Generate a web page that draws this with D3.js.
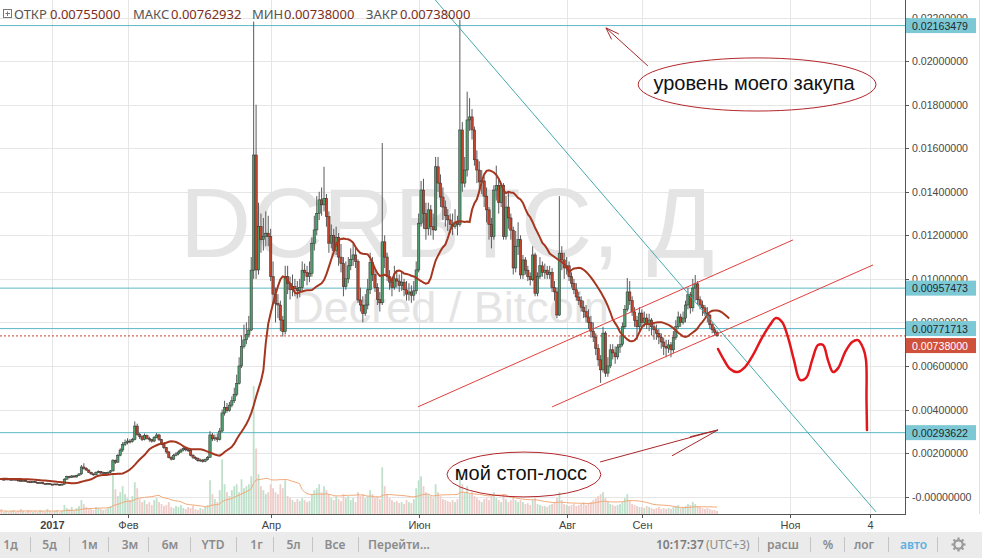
<!DOCTYPE html>
<html><head><meta charset="utf-8">
<script src="https://cdn.jsdelivr.net/npm/d3@7"></script>
<style>
html,body{margin:0;padding:0;background:#fff;overflow:hidden}
svg{display:block}
</style></head><body>
<svg id="c" width="982" height="558"></svg>
<script>
// ---------- DATA (prices in units of 1e-5 BTC, daily candles from 2016-12-05) ----------
const PRICE_UNIT = 1e-5;
const firstDate = "2016-12-05";
const firstOpen = 80;
const closes = [
82,80,84,81,79,83,80,78,81,79, 77,80,76,74,72,75,70,68,66,69, 65,62,64,60,58,61,57,55,58,56,
54,57,80,92,88,95,90,97,104,136, 130,122,112,104,100,112,115,108,110,106, 112,118,165,158,190,214,240,248,255,252,
262,324,285,275,262,280,268,262,255,272, 283,262,240,225,205,180,172,190,196,205, 214,220,215,212,190,180,175,165,168,162,
170,180,283,265,270,262,301,384,410,395, 420,440,470,520,600,690,720,745,765,1040, 1569,1041,1240,1180,1195,1210,1194,1010,930,888,
880,811,758,1010,980,950,965,955,945,960, 1040,1030,1010,1025,1164,1225,1300,1363,1340,1370, 1286,1164,1200,1130,1190,1100,1070,964,1000,1060,
1090,1110,1080,903,880,842,880,950,1075,1020, 960,905,890,1170,1100,1010,985,960,1000,990, 970,985,950,930,940,925,945,1041,1256,1408,
1300,1230,1317,1240,1225,1515,1440,1376,1330,1290, 1271,1250,1240,1260,1250,1684,1440,1500,1730,1744, 1684,1547,1500,1445,1450,1380,1317,1250,1194,1408,
1430,1350,1430,1194,1330,1280,1224,1050,1150,1180, 1018,1087,1040,1010,996,1110,934,1010,1060,1030, 1040,1020,1030,960,940,834,1118,1087,1050,1060,
1010,980,950,917,900,870,850,825,800,760, 733,680,628,582,751,567,600,674,660,642, 687,700,780,860,940,900,848,810,780,843,
800,820,790,811,780,766,750,733,710,690, 682,697,674,730,780,825,800,820,880,927, 867,958,977,904,880,867,843,834,790,766,
755,738];
const highs = [
85,84,86,85,82,85,84,81,83,82, 80,82,81,77,75,77,76,71,69,71, 70,67,66,65,61,63,62,58,60,60,
58,60,84,96,95,98,97,100,108,145, 153,135,125,114,106,115,120,117,114,112, 115,122,172,170,195,222,250,262,268,264,
270,345,335,292,282,290,285,275,265,278, 292,288,265,245,228,210,185,196,205,212, 220,228,225,220,215,195,185,180,174,172,
175,186,300,292,285,290,315,400,440,430, 435,460,500,560,640,740,790,800,830,1100, 2182,1800,1350,1300,1280,1310,1290,1230,1080,960,
930,900,830,1060,1060,1010,1020,1000,990,1000, 1080,1070,1060,1080,1190,1290,1380,1400,1420,1515, 1390,1310,1250,1230,1240,1210,1160,1100,1080,1100,
1140,1160,1150,1090,960,920,930,1000,1120,1100, 1040,980,940,1624,1200,1120,1040,1010,1060,1040, 1020,1030,1000,990,980,970,990,1080,1300,1450,
1460,1350,1350,1340,1300,1560,1560,1480,1420,1360, 1320,1300,1300,1320,1290,2190,1720,1560,1860,1830, 1780,1700,1590,1540,1500,1470,1420,1330,1280,1430,
1520,1460,1440,1440,1380,1400,1300,1240,1220,1260, 1200,1110,1100,1060,1030,1150,1120,1030,1100,1080, 1070,1060,1060,1050,990,960,1380,1150,1120,1100,
1080,1030,1000,980,940,920,900,880,860,830, 800,750,700,650,780,760,640,700,700,690, 700,740,800,880,1004,990,920,870,830,870,
860,850,840,840,820,800,790,770,750,730, 720,720,710,760,810,850,840,850,900,960, 940,1000,1018,990,920,900,880,870,840,800,
780,763];
const lows = [
78,77,79,78,76,78,77,75,77,76, 74,76,73,71,69,70,67,65,63,64, 62,59,60,57,55,56,54,52,53,53,
51,52,55,78,84,86,87,88,95,100, 124,118,108,100,96,98,108,104,104,102, 103,108,115,150,155,185,205,232,240,244,
248,258,280,265,255,258,262,252,248,250, 268,255,236,218,196,176,166,168,185,190, 200,208,208,205,185,172,168,160,160,156,
158,165,178,255,256,250,258,295,372,385, 390,410,430,460,515,590,680,700,730,760, 1000,1000,1020,1120,1130,1150,1150,990,880,800,
820,760,735,745,930,905,920,920,910,915, 945,990,970,985,1010,1130,1200,1270,1290,1310, 1240,1120,1140,1110,1110,1060,1030,920,950,980,
1040,1060,1050,890,850,800,830,860,930,990, 940,880,850,880,1050,990,950,920,950,960, 940,945,920,900,900,890,900,930,1030,1240,
1230,1180,1200,1200,1180,1220,1400,1330,1270,1240, 1220,1210,1200,1230,1200,1240,1400,1420,1470,1680, 1640,1520,1440,1400,1390,1330,1260,1180,1140,1180,
1360,1300,1330,1180,1180,1230,1180,1020,1030,1110, 1000,1000,1020,990,970,990,920,920,1000,1010, 1000,1000,1000,940,900,820,830,1040,1000,1020,
990,960,930,900,880,850,820,800,770,730, 710,650,600,522,570,550,550,590,630,610, 630,660,690,770,850,880,830,780,720,760,
780,780,770,760,740,720,720,700,680,650, 640,660,640,660,720,770,780,790,800,860, 840,850,900,880,860,830,830,800,770,750,
740,738];
const volumes = [
3,2,4,3,2,3,5,2,3,2, 3,4,2,3,5,3,2,4,3,2, 3,2,4,3,2,5,3,2,3,4,
2,3,9,6,5,7,4,6,8,14, 10,7,6,5,4,7,6,5,4,5, 6,8,41,25,18,22,28,20,16,14,
18,32,26,15,12,14,10,12,9,14, 16,12,10,8,9,12,7,6,8,7, 9,6,5,7,6,8,5,4,6,5,
7,9,34,20,15,12,24,55,30,22, 18,24,28,30,22,35,26,28,30,38, 129,66,40,28,24,20,22,30,26,22,
20,30,26,34,18,16,14,12,15,13, 16,14,12,13,20,24,26,30,22,28, 24,20,16,14,18,15,13,20,16,18,
14,16,12,22,18,20,16,18,24,20, 16,18,15,47,28,20,16,14,12,13, 11,12,10,14,12,11,15,26,34,38,
28,22,20,18,16,30,22,18,15,14, 13,12,14,12,15,44,30,22,28,20, 22,18,16,14,12,15,16,14,18,22,
16,14,12,20,15,12,14,18,14,12, 14,12,10,11,9,14,16,10,9,8, 8,7,9,10,12,16,22,14,10,9,
8,9,10,8,9,10,12,9,11,12, 14,16,18,20,22,16,12,10,9,8, 9,10,12,16,20,14,10,9,8,7,
7,6,8,7,6,5,6,7,5,6, 5,6,5,7,8,9,6,7,8,10, 9,12,10,8,7,6,5,6,5,4,
4,3];

const priceTicks = [0.022,0.020,0.018,0.016,0.014,0.012,0.010,0.008,0.006,0.004,0.002,0];
const priceTickLabels = ["0.02200000","0.02000000","0.01800000","0.01600000","0.01400000","0.01200000","0.01000000","0.00800000","0.00600000","0.00400000","0.00200000","-0.00000000"];
const levelPrices = [0.02163479, 0.00957473, 0.00771713, 0.00293622];
const lastPrice = 0.00738;
const timeTickDates = ["2017-01-01","2017-02-01","2017-04-01","2017-06-01","2017-08-01","2017-09-01","2017-11-01","2017-12-04"];
const timeTickLabels = ["2017","Фев","Апр","Июн","Авг","Сен","Ноя","4"];

// drawings (day offset from 2017-01-01, price)
const tealTrend = [[155.7,0.02309],[339.5,-0.0007]];
const channelUpper = [[150.7,0.00412],[305.3,0.01179]];
const channelLower = [[206.0,0.00412],[338.3,0.01064]];
const scribbleDays = [274.4,276.9,279.4,282.3,285.5,288.8,292.5,295.8,298.3,300.8,303.3,305.7,308.2,310.7,313.2,315.6,317.7,319.7,321.8,323.9,326.8,329.7,332.1,334.2,335.4,335.6,335.8];
const scribblePrices = [0.00678,0.00627,0.00586,0.00572,0.00595,0.0065,0.00729,0.00788,0.0082,0.00802,0.00729,0.00627,0.00536,0.00545,0.00627,0.00696,0.00696,0.00627,0.00572,0.0059,0.00664,0.0071,0.00719,0.00682,0.00627,0.00444,0.00306];
const notes = [
  {text:"уровень моего закупа", day:290.5, price:0.01893, rxDays:49, ryPrice:0.00122},
  {text:"мой стоп-лосс", day:194.4, price:0.001015, rxDays:31.7, ryPrice:0.00103}
];
const arrows = [
  {from:[245.5,0.01978], to:[228.2,0.02153], barbs:[[230.5,0.02100],[233.5,0.02125]]},
  {from:[225.8,0.00159], to:[274.4,0.00306], barbs:[[262.9,0.00275],[255.4,0.00187]]}
];
const header = [["ОТКР","0.00755000"],["МАКС","0.00762932"],["МИН","0.00738000"],["ЗАКР","0.00738000"]];
const leftButtons = ["1д","5д","1м","3м","6м","YTD","1г","5л","Все","Перейти..."];
const rightButtons = ["расш","%","лог","авто"];

// ---------- CHART ----------
const W = 905, H = 514, DAY = 86400000;
const parse = d3.utcParse("%Y-%m-%d");
const t0 = parse("2017-01-01");
const dayDate = d => new Date(t0.getTime() + d*DAY);
const x = d3.scaleUtc().domain([t0, parse("2017-12-04")]).range([52.3, 869.9]);
const y = d3.scaleLinear().domain([-0.0008, 0.02281]).range([H, 0]);
const yv = d3.scaleLinear().domain([0, 130]).range([H, 385]);

const svg = d3.select("#c");
svg.append("rect").attr("width",982).attr("height",558).attr("fill","#fff");
svg.append("defs").append("clipPath").attr("id","clip").append("rect").attr("width",W).attr("height",H);

const start = parse(firstDate);
const candles = closes.map((c,i)=>{
  const o = i ? closes[i-1] : firstOpen;
  return {date:new Date(start.getTime()+i*DAY), o:o*PRICE_UNIT, c:c*PRICE_UNIT,
          h:Math.max(highs[i],o,c)*PRICE_UNIT, l:Math.min(lows[i],o,c)*PRICE_UNIT, v:volumes[i]};
});

const plot = svg.append("g").attr("clip-path","url(#clip)");
// grid
plot.append("g").selectAll("line").data(priceTicks).join("line")
  .attr("x1",0).attr("x2",W).attr("y1",d=>Math.round(y(d))+0.5).attr("y2",d=>Math.round(y(d))+0.5)
  .attr("stroke","#e6e6e6");
plot.append("g").selectAll("line").data(timeTickDates).join("line")
  .attr("x1",d=>Math.round(x(parse(d)))+0.5).attr("x2",d=>Math.round(x(parse(d)))+0.5).attr("y1",0).attr("y2",H)
  .attr("stroke","#e6e6e6");

// watermark
plot.append("text").attr("x",447).attr("y",257).attr("text-anchor","middle")
  .attr("font-family","Liberation Sans, Arial, sans-serif").attr("font-size",99).attr("fill","#e4e4e4")
  .text("DCRBTC, Д");
plot.append("text").attr("x",450).attr("y",323).attr("text-anchor","middle")
  .attr("font-family","Liberation Sans, Arial, sans-serif").attr("font-size",45).attr("fill","#e4e4e4")
  .text("Decred / Bitcoin");

// volume
plot.append("g").selectAll("rect").data(candles).join("rect")
  .attr("x",d=>x(d.date)-0.9).attr("width",1.8)
  .attr("y",d=>yv(d.v)).attr("height",d=>H-yv(d.v))
  .attr("fill",d=>d.c>=d.o?"#bfe0cb":"#efcdca");
const volMA = candles.map((d,i)=>{const s=candles.slice(Math.max(0,i-19),i+1);return {date:d.date,v:d3.mean(s,e=>e.v)};});
plot.append("path").datum(volMA).attr("fill","none").attr("stroke","#f2a977").attr("stroke-width",1)
  .attr("d",d3.line().x(d=>x(d.date)).y(d=>yv(d.v)));

// horizontal levels
plot.append("g").selectAll("line").data(levelPrices).join("line")
  .attr("x1",0).attr("x2",W).attr("y1",d=>y(d)).attr("y2",d=>y(d))
  .attr("stroke","#5db8c6").attr("stroke-width",1);
plot.append("line").attr("x1",0).attr("x2",W).attr("y1",y(lastPrice)).attr("y2",y(lastPrice))
  .attr("stroke","#c8402e").attr("stroke-dasharray","2,2");

// candles
const cg = plot.append("g");
cg.selectAll("line").data(candles).join("line")
  .attr("x1",d=>x(d.date)).attr("x2",d=>x(d.date)).attr("y1",d=>y(d.h)).attr("y2",d=>y(d.l))
  .attr("stroke","#5a5a5a").attr("stroke-width",1);
cg.selectAll("rect").data(candles).join("rect")
  .attr("x",d=>x(d.date)-1.2).attr("width",2.4)
  .attr("y",d=>y(Math.max(d.o,d.c))).attr("height",d=>Math.max(1,Math.abs(y(d.o)-y(d.c))))
  .attr("fill",d=>d.c>=d.o?"#4e9d6c":"#c0432b").attr("stroke","#2e2e2e").attr("stroke-width",0.5);

// Alligator teeth: SMMA(8) of hl2, offset 5
const src = candles.map(d=>(d.h+d.l)/2);
const smma = []; src.forEach((s,i)=>{ if(i<8) smma.push(d3.mean(src.slice(0,i+1))); else smma.push((smma[i-1]*7+s)/8); });
const teeth = candles.map((d,i)=>({date:new Date(d.date.getTime()+5*DAY), v:smma[i]}));
plot.append("path").datum(teeth).attr("fill","none").attr("stroke","#a5361f").attr("stroke-width",2)
  .attr("d",d3.line().x(d=>x(d.date)).y(d=>y(d.v)));

// drawings
const P = p => [x(dayDate(p[0])), y(p[1])];
plot.append("line").attr("x1",P(tealTrend[0])[0]).attr("y1",P(tealTrend[0])[1]).attr("x2",P(tealTrend[1])[0]).attr("y2",P(tealTrend[1])[1])
  .attr("stroke","#45a9ab").attr("stroke-width",1);
[channelUpper, channelLower].forEach(ln=>{
  plot.append("line").attr("x1",P(ln[0])[0]).attr("y1",P(ln[0])[1]).attr("x2",P(ln[1])[0]).attr("y2",P(ln[1])[1])
    .attr("stroke","#e0403c").attr("stroke-width",1);
});
plot.append("path").datum(scribbleDays.map((d,i)=>[d,scribblePrices[i]]))
  .attr("fill","none").attr("stroke","#e3161c").attr("stroke-width",2.5).attr("stroke-linecap","round")
  .attr("d",d3.line().x(d=>P(d)[0]).y(d=>P(d)[1]).curve(d3.curveCatmullRom));
notes.forEach(n=>{
  const c = P([n.day,n.price]);
  const rx = x(dayDate(n.day+n.rxDays))-c[0], ry = y(n.price-n.ryPrice)-c[1];
  plot.append("ellipse").attr("cx",c[0]).attr("cy",c[1]).attr("rx",rx).attr("ry",ry)
    .attr("fill","none").attr("stroke","#b3262a").attr("stroke-width",1);
  plot.append("text").attr("x",c[0]-3).attr("y",c[1]+6).attr("text-anchor","middle")
    .attr("font-family","Liberation Sans, Arial, sans-serif").attr("font-size",20).attr("fill","#111").text(n.text);
});
arrows.forEach(a=>{
  const f=P(a.from), t=P(a.to);
  plot.append("line").attr("x1",f[0]).attr("y1",f[1]).attr("x2",t[0]).attr("y2",t[1]).attr("stroke","#a8282a");
  a.barbs.forEach(b=>{const q=P(b);plot.append("line").attr("x1",q[0]).attr("y1",q[1]).attr("x2",t[0]).attr("y2",t[1]).attr("stroke","#a8282a");});
});

// ---------- price axis ----------
svg.append("line").attr("x1",W+0.5).attr("x2",W+0.5).attr("y1",0).attr("y2",H).attr("stroke","#555");
svg.append("line").attr("x1",979.5).attr("x2",979.5).attr("y1",0).attr("y2",H).attr("stroke","#e2e2e2");
const ax = svg.append("g");
ax.selectAll("line").data(priceTicks).join("line")
  .attr("x1",W).attr("x2",W+4).attr("y1",d=>Math.round(y(d))+0.5).attr("y2",d=>Math.round(y(d))+0.5).attr("stroke","#555");
ax.selectAll("text").data(priceTicks).join("text")
  .attr("x",912).attr("y",d=>y(d)+4).attr("font-family","Liberation Sans, Arial, sans-serif").attr("font-size",10.6)
  .attr("fill","#4a4a4a").text((d,i)=>priceTickLabels[i]);
// value labels
const labels = levelPrices.map(p=>({p,fill:"#7cc8d4",color:"#1e2a30"})).concat([{p:lastPrice,fill:"#d0513b",color:"#fff"}])
  .map(l=>({...l, cy:y(l.p)})).sort((a,b)=>a.cy-b.cy);
for(let i=1;i<labels.length;i++){ if(labels[i].cy-labels[i-1].cy<17) labels[i].cy=labels[i-1].cy+17; }
labels.forEach(l=>{
  svg.append("rect").attr("x",906).attr("y",l.cy-7.5).attr("width",70).attr("height",15).attr("fill",l.fill);
  svg.append("text").attr("x",912).attr("y",l.cy+4).attr("font-family","Liberation Sans, Arial, sans-serif")
    .attr("font-size",10.6).attr("fill",l.color).text(d3.format(".8f")(l.p));
});

// ---------- time axis ----------
svg.append("line").attr("x1",0).attr("x2",W+1).attr("y1",H+0.5).attr("y2",H+0.5).attr("stroke","#555");
const tx = svg.append("g");
timeTickDates.forEach((d,i)=>{
  const xx = Math.round(x(parse(d)))+0.5;
  tx.append("line").attr("x1",xx).attr("x2",xx).attr("y1",H).attr("y2",H+4).attr("stroke","#555");
  tx.append("text").attr("x",xx).attr("y",H+15).attr("text-anchor","middle")
    .attr("font-family","Liberation Sans, Arial, sans-serif").attr("font-size",11)
    .attr("font-weight",i===0?"bold":"normal").attr("fill","#444").text(timeTickLabels[i]);
});

// ---------- header ----------
const hg = svg.append("g").attr("font-family","Noto Sans, Open Sans, sans-serif").attr("font-size",13);
hg.append("rect").attr("x",3.5).attr("y",9.5).attr("width",8).attr("height",8).attr("fill","none").attr("stroke","#777");
hg.append("path").attr("d","M5.5 13.5H10M7.5 11.5V16").attr("stroke","#777");
const hx = [[14,50],[133,171],[252,284],[366,400]];
header.forEach((h,i)=>{
  hg.append("text").attr("x",hx[i][0]).attr("y",19).attr("fill","#555").text(h[0]);
  hg.append("text").attr("x",hx[i][1]).attr("y",19).attr("fill","#7a2e22").text(h[1]);
});

// ---------- toolbar ----------
svg.append("rect").attr("x",0).attr("y",532).attr("width",982).attr("height",26).attr("fill","#ebebeb");
const tb = svg.append("g").attr("font-family","Noto Sans, Open Sans, sans-serif").attr("font-size",12).attr("font-weight",600);
const lbx = [10.5,49.5,89.5,130,170,213,256.5,293.5,335,399];
const sepL = [30,69,108,148,190,236,273,312,358];
leftButtons.forEach((b,i)=>tb.append("text").attr("x",lbx[i]).attr("y",549).attr("text-anchor","middle").attr("fill","#8b8b8b").text(b));
const sepR = [758,810,844,888,937];
sepL.concat(sepR).forEach(s=>tb.append("line").attr("x1",s+0.5).attr("x2",s+0.5).attr("y1",537).attr("y2",552).attr("stroke","#c4c4c4"));
tb.append("text").attr("x",656).attr("y",549).attr("fill","#7d7d7d").text("10:17:37");
tb.append("text").attr("x",706).attr("y",549).attr("fill","#8b8b8b").attr("font-weight",400).text("(UTC+3)");
const rbx = [783,828,864,913.5];
rightButtons.forEach((b,i)=>tb.append("text").attr("x",rbx[i]).attr("y",549).attr("text-anchor","middle")
  .attr("fill",b==="авто"?"#5fb0e0":"#8b8b8b").text(b));
// gear
const gear = svg.append("g").attr("transform","translate(958.5,544.5)");
gear.append("circle").attr("r",4.2).attr("fill","none").attr("stroke","#9a9a9a").attr("stroke-width",2.2);
d3.range(8).forEach(k=>gear.append("line").attr("x1",0).attr("y1",-4.5).attr("x2",0).attr("y2",-7)
  .attr("stroke","#9a9a9a").attr("stroke-width",2.2).attr("transform",`rotate(${k*45})`));
</script></body></html>
